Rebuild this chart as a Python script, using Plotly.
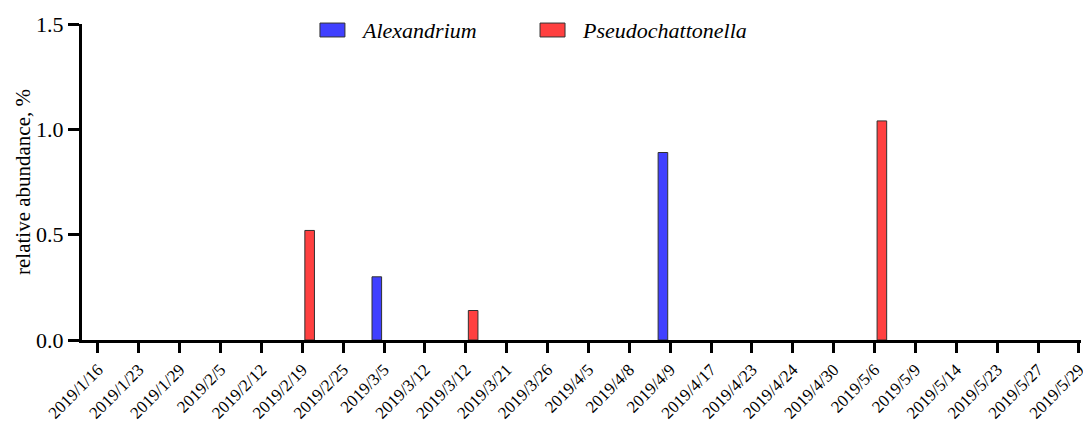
import plotly.graph_objects as go

dates = ["2019/1/16", "2019/1/23", "2019/1/29", "2019/2/5", "2019/2/12", "2019/2/19",
         "2019/2/25", "2019/3/5", "2019/3/12", "2019/3/12", "2019/3/21", "2019/3/26",
         "2019/4/5", "2019/4/8", "2019/4/9", "2019/4/17", "2019/4/23", "2019/4/24",
         "2019/4/30", "2019/5/6", "2019/5/9", "2019/5/14", "2019/5/23", "2019/5/27",
         "2019/5/29"]
alexandrium = [0, 0, 0, 0, 0, 0, 0, 0.30, 0, 0, 0, 0, 0, 0, 0.89, 0, 0, 0, 0, 0, 0, 0, 0, 0, 0]
pseudochattonella = [0, 0, 0, 0, 0, 0.52, 0, 0, 0, 0.14, 0, 0, 0, 0, 0, 0, 0, 0, 0, 1.04, 0, 0, 0, 0, 0]
series_names = ["Alexandrium", "Pseudochattonella"]
colors = ["#4040FF", "#FF4040"]

xpos = list(range(len(dates)))
FONT = "Liberation Serif, Times New Roman, serif"

fig = go.Figure()
for name, vals, col in zip(series_names, [alexandrium, pseudochattonella], colors):
    fig.add_trace(go.Bar(x=xpos, y=vals, name=name,
                         marker=dict(color=col,
                                     line=dict(color="#303030",
                                               width=[1 if v > 0 else 0 for v in vals])),
                         showlegend=False))

# legend drawn as swatches + italic text
legend_items = [(0.2382, 0.2773), (0.4585, 0.4985)]
for (sx, tx), name, col in zip(legend_items, series_names, colors):
    fig.add_shape(type="rect", xref="paper", yref="paper",
                  x0=sx, x1=sx + 0.025, y0=0.959, y1=1.003,
                  fillcolor=col, line=dict(color="#303030", width=1))
    fig.add_annotation(xref="paper", yref="paper", x=tx, y=0.981,
                       xanchor="left", yanchor="middle", showarrow=False,
                       text=f"<i>{name}</i>",
                       font=dict(family=FONT, size=22, color="black"))

fig.update_layout(
    width=1083, height=421,
    margin=dict(l=82, r=2, t=24, b=81),
    paper_bgcolor="white", plot_bgcolor="white",
    barmode="group", bargap=0.286, bargroupgap=0.342,
    font=dict(family=FONT, color="black"),
)
fig.update_xaxes(
    range=[-0.391, 24.05], tickvals=xpos, ticktext=dates, tickangle=-45,
    showline=True, linewidth=3, linecolor="black",
    ticks="outside", ticklen=10, tickwidth=3, tickcolor="black",
    showgrid=False, zeroline=False, automargin=False, ticklabeloverflow="allow",
    tickfont=dict(family=FONT, size=17, color="black"),
)
fig.update_yaxes(
    range=[0, 1.5], tickvals=[0, 0.5, 1.0, 1.5], tickformat=".1f",
    showline=True, linewidth=3, linecolor="black",
    ticks="outside", ticklen=11, tickwidth=3, tickcolor="black",
    showgrid=False, zeroline=False, automargin=False,
    tickfont=dict(family=FONT, size=22, color="black"),
    title=dict(text="relative abundance, %", font=dict(family=FONT, size=21, color="black"),
               standoff=0),
)

fig.write_html("out.html", config={"displayModeBar": False},
               post_script="document.body.style.margin='0';")
